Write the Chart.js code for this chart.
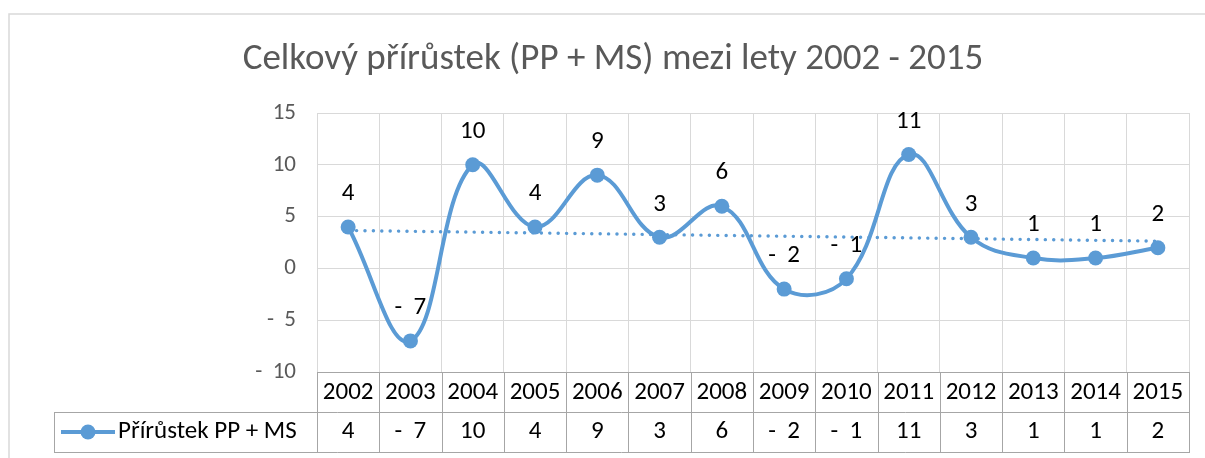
<!DOCTYPE html>
<html>
<head>
<meta charset="utf-8">
<script src="https://cdn.jsdelivr.net/npm/chart.js@4"></script>
<style>
  html, body { margin: 0; padding: 0; background: #fff; overflow: hidden; }
  #wrap { position: relative; width: 1205px; height: 458px; }
</style>
</head>
<body>
<div id="wrap"><canvas id="c" width="1205" height="458"></canvas></div>
<script>
const years = ['2002','2003','2004','2005','2006','2007','2008','2009','2010','2011','2012','2013','2014','2015'];
const growth = [4, -7, 10, 4, 9, 3, 6, -2, -1, 11, 3, 1, 1, 2];
const trendEnds = [3.66, 2.63];
const seriesName = 'Přírůstek PP + MS';
const chartTitle = 'Celkový přírůstek (PP + MS) mezi lety 2002 - 2015';
const yTicks = [-10, -5, 0, 5, 10, 15];

const FONT = "Carlito, Lato, 'Open Sans', sans-serif";
const BLUE = '#5B9BD5';
const fmt = v => v < 0 ? '-  ' + Math.abs(v) : String(v);

const trendData = years.map((_, i) => i === 0 ? trendEnds[0] : (i === years.length - 1 ? trendEnds[1] : null));

const tablePlugin = {
  id: 'excelTable',
  beforeDraw(chart) {
    const ctx = chart.ctx;
    ctx.save();
    ctx.strokeStyle = '#d9d9d9';
    ctx.lineWidth = 1.5;
    ctx.strokeRect(9, 14, 1400, 700);
    ctx.restore();
  },
  afterDatasetsDraw(chart) {
    const ctx = chart.ctx;
    const meta = chart.getDatasetMeta(0);
    ctx.save();
    ctx.fillStyle = '#000';
    ctx.font = '25px ' + FONT;
    ctx.textAlign = 'center';
    ctx.textBaseline = 'middle';
    meta.data.forEach((pt, i) => {
      ctx.fillText(fmt(growth[i]), pt.x, pt.y - 33);
    });
    ctx.restore();
  },
  afterDraw(chart) {
    const ctx = chart.ctx;
    const x = chart.scales.x;
    const a = chart.chartArea;
    const n = years.length;
    const cw = (a.right - a.left) / n;
    const rowTop = a.bottom;
    const rowMid = rowTop + 40;
    const rowBot = rowTop + 80;
    const keyLeft = 54;
    ctx.save();
    ctx.strokeStyle = '#a6a6a6';
    ctx.lineWidth = 1;
    ctx.beginPath();
    ctx.moveTo(a.left, rowTop + 0.5); ctx.lineTo(a.right, rowTop + 0.5);
    ctx.moveTo(keyLeft, rowMid + 0.5); ctx.lineTo(a.right, rowMid + 0.5);
    ctx.moveTo(keyLeft, rowBot + 0.5); ctx.lineTo(a.right, rowBot + 0.5);
    for (let i = 0; i <= n; i++) {
      const px = Math.round(a.left + i * cw) + 0.5;
      ctx.moveTo(px, rowTop); ctx.lineTo(px, rowBot + 1);
    }
    ctx.moveTo(keyLeft + 0.5, rowMid); ctx.lineTo(keyLeft + 0.5, rowBot + 1);
    ctx.stroke();

    // legend key
    const ky = rowMid + 20;
    ctx.strokeStyle = BLUE;
    ctx.lineWidth = 4;
    ctx.beginPath();
    ctx.moveTo(61, ky); ctx.lineTo(115, ky);
    ctx.stroke();
    ctx.fillStyle = BLUE;
    ctx.beginPath();
    ctx.arc(88, ky, 7.5, 0, Math.PI * 2);
    ctx.fill();

    ctx.fillStyle = '#000';
    ctx.font = '25px ' + FONT;
    ctx.textBaseline = 'middle';
    ctx.textAlign = 'left';
    ctx.fillText(seriesName, 118, ky);
    ctx.textAlign = 'center';
    growth.forEach((v, i) => {
      ctx.fillText(fmt(v), x.getPixelForValue(i), ky);
    });
    ctx.restore();
  }
};

new Chart(document.getElementById('c'), {
  type: 'line',
  data: {
    labels: years,
    datasets: [
      {
        label: seriesName,
        data: growth,
        borderColor: BLUE,
        backgroundColor: BLUE,
        borderWidth: 4,
        pointRadius: 7.5,
        pointHoverRadius: 7.5,
        pointBackgroundColor: BLUE,
        pointBorderWidth: 0,
        tension: 0.4,
        fill: false,
        order: 0
      },
      {
        label: 'trend',
        data: trendData,
        spanGaps: true,
        borderColor: BLUE,
        borderWidth: 3.4,
        borderDash: [0.1, 8.3],
        borderCapStyle: 'round',
        pointRadius: 0,
        tension: 0,
        fill: false,
        order: 1
      }
    ]
  },
  options: {
    responsive: false,
    animation: false,
    events: [],
    layout: { padding: { left: 37, right: 16, top: 0, bottom: 46 } },
    plugins: {
      legend: { display: false },
      tooltip: { enabled: false },
      title: {
        display: true,
        text: chartTitle,
        color: '#595959',
        font: { family: FONT, size: 37, weight: 'normal' },
        padding: { top: 38, bottom: 30.6 }
      }
    },
    scales: {
      x: {
        offset: true,
        grid: { offset: true, color: '#d9d9d9', lineWidth: 1, drawTicks: false },
        border: { display: true, color: '#d9d9d9' },
        ticks: {
          color: '#000',
          font: { family: FONT, size: 25 },
          padding: 6,
          maxRotation: 0,
          autoSkip: false
        },
        afterFit(scale) { scale.height = 40; }
      },
      y: {
        min: -10,
        max: 15,
        afterBuildTicks(scale) { scale.ticks = yTicks.map(v => ({ value: v })); },
        grid: { color: '#d9d9d9', lineWidth: 1, drawTicks: false },
        border: { display: false },
        ticks: {
          color: '#595959',
          font: { family: FONT, size: 23 },
          padding: 21,
          callback: v => fmt(v)
        },
        afterFit(scale) { scale.width = 280; }
      }
    }
  },
  plugins: [tablePlugin]
});
</script>
</body>
</html>
